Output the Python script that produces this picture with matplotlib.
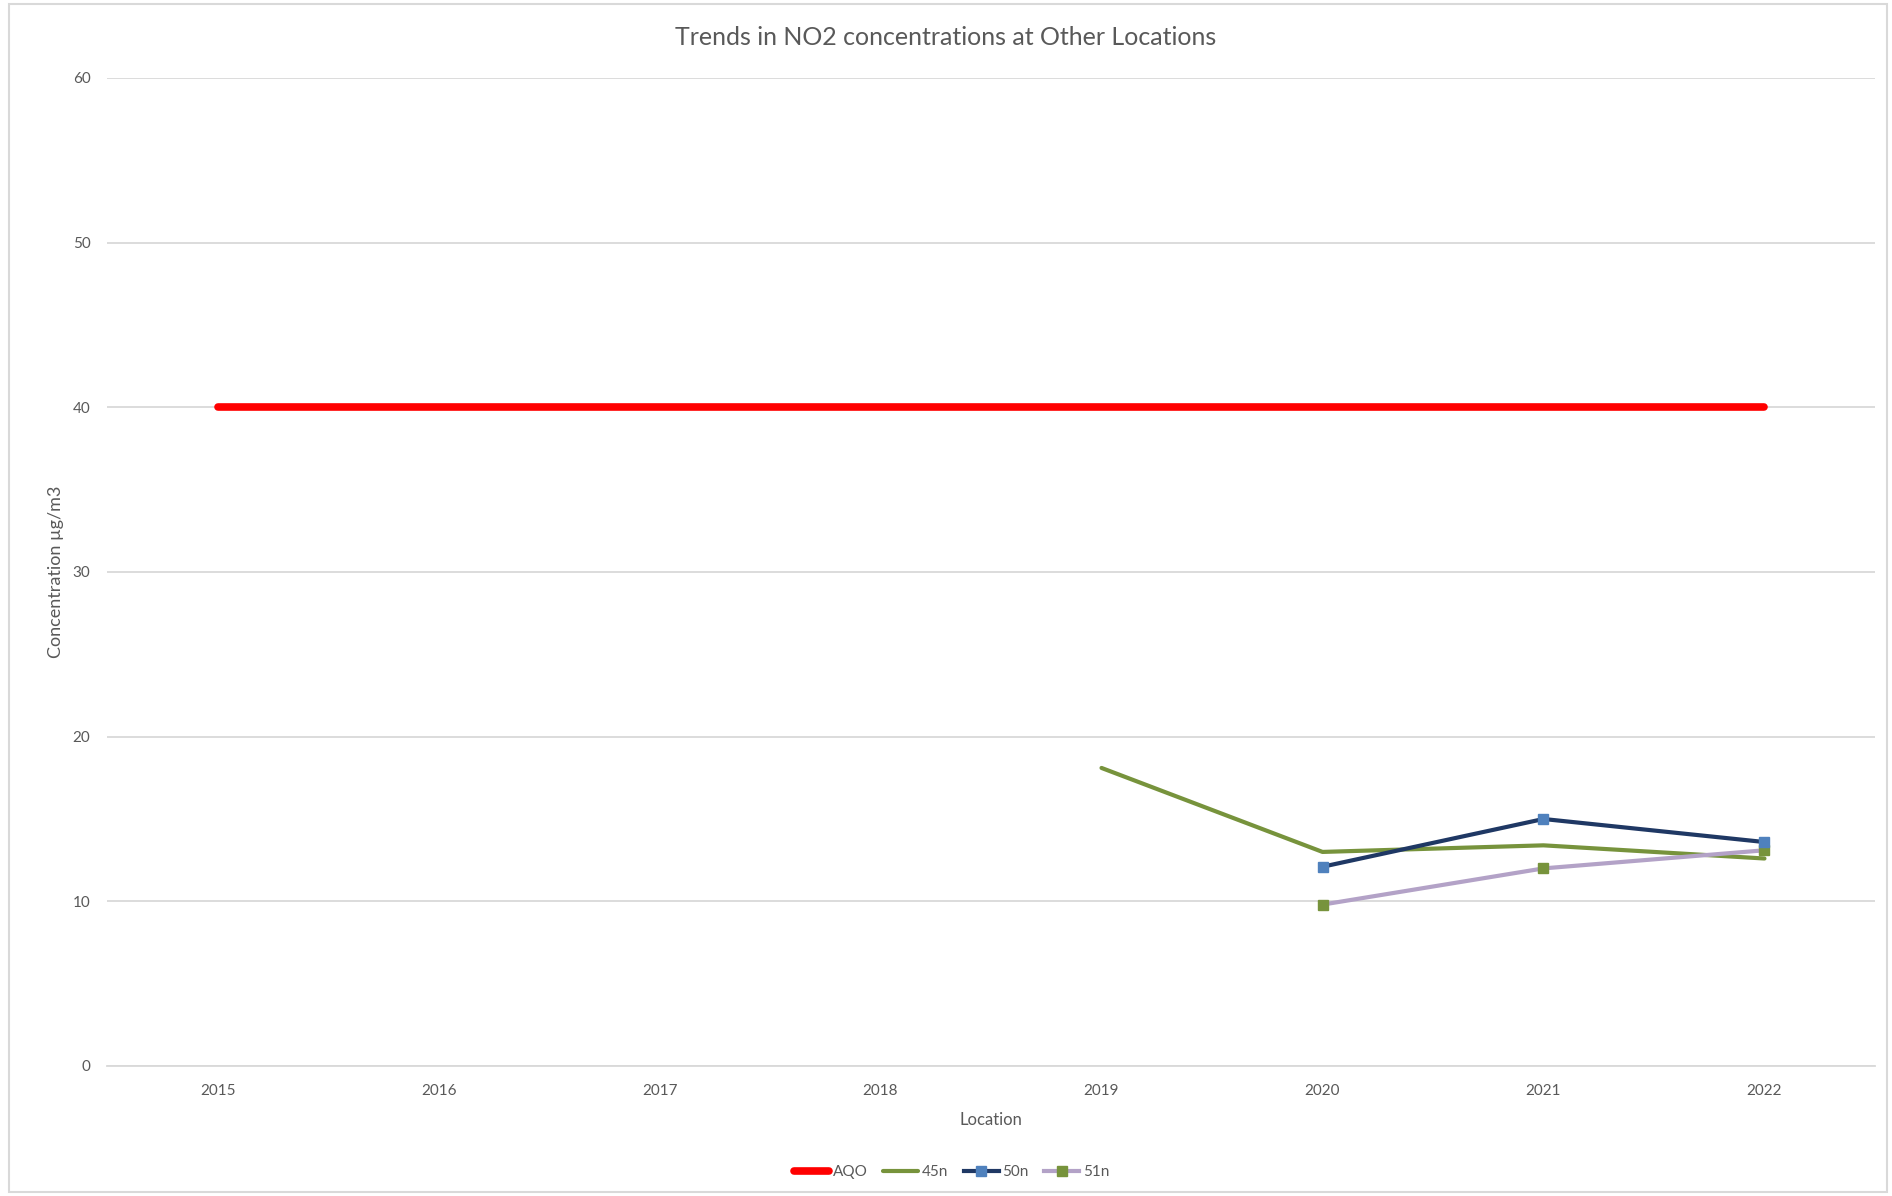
import matplotlib.pyplot as plt
from matplotlib.patches import Rectangle

plt.rcParams['font.family'] = ['Lato', 'DejaVu Sans']

years = ['2015', '2016', '2017', '2018', '2019', '2020', '2021', '2022']
aqo = [40, 40, 40, 40, 40, 40, 40, 40]
# None where the site has no value for that year
s45n = [None, None, None, None, 18.1, 13.0, 13.4, 12.6]
s50n = [None, None, None, None, None, 12.1, 15.0, 13.6]
s51n = [None, None, None, None, None, 9.8, 12.0, 13.1]

text_col = '#595959'
grid_col = '#D9D9D9'

fig = plt.figure(figsize=(18.92, 11.96), dpi=100)
ax = fig.add_axes([0.0566, 0.1087, 0.9344, 0.8261])

x = list(range(len(years)))

def pts(vals):
    xs = [i for i, v in zip(x, vals) if v is not None]
    ys = [v for v in vals if v is not None]
    return xs, ys

ax.plot(x, aqo, color='#FF0000', lw=5.5, solid_capstyle='round', label='AQO', zorder=3)
xs, ys = pts(s45n)
ax.plot(xs, ys, color='#77933C', lw=3, solid_capstyle='round', label='45n', zorder=4)
xs, ys = pts(s50n)
ax.plot(xs, ys, color='#1F3864', lw=3, marker='s', ms=7, mfc='#4F81BD', mec='#4F81BD',
        label='50n', zorder=5)
xs, ys = pts(s51n)
ax.plot(xs, ys, color='#B3A2C7', lw=3, marker='s', ms=7, mfc='#77933C', mec='#77933C',
        label='51n', zorder=4)

ax.set_xlim(-0.5, len(years) - 0.5)
ax.set_ylim(0, 60)
ax.set_yticks(range(0, 61, 10))
ax.set_xticks(x)
ax.set_xticklabels(years)
ax.yaxis.grid(True, color=grid_col, lw=1.3)
ax.set_axisbelow(True)
for s in ['top', 'right', 'left']:
    ax.spines[s].set_visible(False)
ax.spines['bottom'].set_color(grid_col)
ax.spines['bottom'].set_linewidth(1.3)
ax.tick_params(length=0, labelsize=11, colors=text_col, pad=13)
ax.tick_params(axis='y', pad=12)

fig.text(0.5, 0.9687, 'Trends in NO2 concentrations at Other Locations', fontsize=18,
         color=text_col, ha='center', va='center')
ax.set_xlabel('Location', fontsize=12, color=text_col, labelpad=10)
ax.set_ylabel('Concentration µg/m3', fontsize=13, color=text_col, labelpad=6)

ax.legend(loc='center', bbox_to_anchor=(0.503, 0.02), bbox_transform=fig.transFigure,
          ncol=4, frameon=False, fontsize=11, handlelength=2.3, handletextpad=0.25,
          columnspacing=1.0, labelcolor=text_col)

fig.patches.append(Rectangle((9 / 1892, 4 / 1196), 1878 / 1892, 1188 / 1196,
                             transform=fig.transFigure, fill=False,
                             edgecolor=grid_col, lw=1.5))

fig.savefig('out.png', dpi=100)
